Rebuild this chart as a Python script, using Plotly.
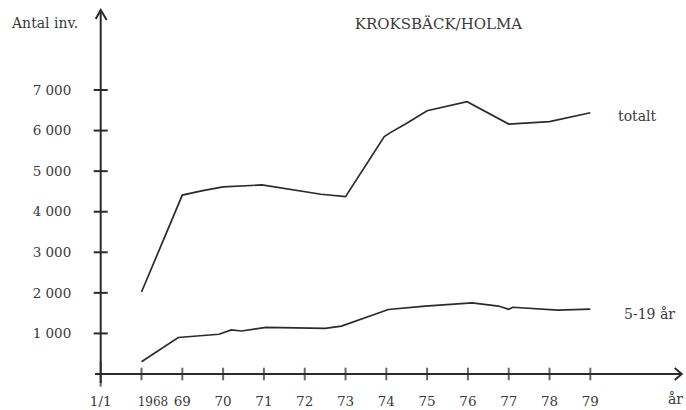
import plotly.graph_objects as go

# --- data ------------------------------------------------------------------
years_total = [1968.0, 1969.0, 1969.5, 1970.0, 1970.95, 1971.7, 1972.4, 1973.0,
               1973.95, 1974.1, 1974.5, 1975.0, 1975.98, 1977.0, 1978.0, 1979.0]
inv_total = [2020, 4410, 4520, 4610, 4660, 4540, 4430, 4370,
             5850, 5950, 6180, 6490, 6710, 6160, 6220, 6440]

years_5_19 = [1968.0, 1968.9, 1969.9, 1970.2, 1970.45, 1971.05, 1972.5, 1972.9,
              1974.05, 1974.95, 1976.1, 1976.75, 1977.0, 1977.1, 1978.2, 1979.0]
inv_5_19 = [300, 900, 980, 1085, 1060, 1150, 1125, 1180,
            1590, 1675, 1755, 1675, 1595, 1645, 1575, 1600]

x_tickvals = [1967, 1968, 1969, 1970, 1971, 1972, 1973, 1974, 1975, 1976, 1977, 1978, 1979]
x_ticktext = ["1/1", "<span style='font-size:12px'>\u00a0\u00a0\u00a0\u00a0\u00a0\u00a01968</span>",
              "69", "70", "71", "72", "73", "74", "75", "76", "77", "78", "79"]
y_tickvals = [1000, 2000, 3000, 4000, 5000, 6000, 7000]
y_ticktext = ["1 000", "2 000", "3 000", "4 000", "5 000", "6 000", "7 000"]

title = "KROKSBÄCK/HOLMA"
series_names = ["totalt", "5-19 år"]

# --- style ------------------------------------------------------------------
INK = "#2b2b2b"
TEXT = "#3a3a3a"
FONT = "DejaVu Serif"
X0, Y0 = 1967, 0               # origin of the drawn axes
X_END, Y_END = 1981.24, 8972   # arrow tips

fig = go.Figure()

for xs, ys, name in [(years_total, inv_total, series_names[0]),
                     (years_5_19, inv_5_19, series_names[1])]:
    fig.add_trace(go.Scatter(
        x=xs, y=ys, mode="lines", name=name,
        line=dict(color=INK, width=1.7),
        showlegend=False, hoverinfo="x+y"
    ))

# tick marks crossing the axes
fig.add_trace(go.Scatter(
    x=[X0] * len(y_tickvals), y=y_tickvals, mode="markers",
    marker=dict(symbol="line-ew", size=10, line=dict(color=INK, width=2)),
    showlegend=False, hoverinfo="skip", cliponaxis=False
))
fig.add_trace(go.Scatter(
    x=x_tickvals, y=[Y0] * len(x_tickvals), mode="markers",
    marker=dict(symbol="line-ns", size=[18] + [9] * (len(x_tickvals) - 1),
                line=dict(color=INK, width=2)),
    showlegend=False, hoverinfo="skip", cliponaxis=False
))

# axes drawn by hand, with open arrow heads
shapes = [
    dict(type="line", xref="x", yref="y", x0=X0 - 0.14, x1=X_END, y0=Y0, y1=Y0,
         line=dict(color=INK, width=2)),
    dict(type="line", xref="x", yref="y", x0=X0, x1=X0, y0=Y0 - 220, y1=Y_END,
         line=dict(color=INK, width=2)),
    dict(type="path", xref="x", yref="y", xsizemode="pixel", ysizemode="pixel",
         xanchor=X0, yanchor=Y_END, path="M -5,-9 L 0,0 L 6,-10",
         line=dict(color=INK, width=2)),
    dict(type="path", xref="x", yref="y", xsizemode="pixel", ysizemode="pixel",
         xanchor=X_END, yanchor=Y0, path="M -7,6 L 0,0 L -7,-6",
         line=dict(color=INK, width=2)),
]

annotations = [
    dict(text="Antal inv.", xref="paper", yref="y", x=-0.1345, y=8640,
         xanchor="left", yanchor="middle"),
    dict(text="år", xref="x", yref="paper", x=1981.08, y=-0.04,
         xanchor="center", yanchor="middle"),
    dict(text=series_names[0], xref="x", yref="y", x=1979.62, y=inv_total[-1] - 90,
         xanchor="left", yanchor="middle"),
    dict(text=series_names[1], xref="x", yref="y", x=1979.78, y=inv_5_19[-1] - 120,
         xanchor="left", yanchor="middle"),
]
for a in annotations:
    a.update(showarrow=False, font=dict(family=FONT, size=14, color=TEXT))

fig.update_layout(
    width=686, height=410,
    margin=dict(l=89, r=2, t=7, b=26),
    paper_bgcolor="white", plot_bgcolor="white",
    title=dict(text=title, x=438.5 / 686, y=1 - 23.3 / 410,
               xanchor="center", yanchor="middle",
               font=dict(family=FONT, size=15, color=TEXT)),
    xaxis=dict(range=[1966.713, 1981.296], showgrid=False, zeroline=False,
               showline=False, tickvals=x_tickvals, ticktext=x_ticktext,
               ticks="outside", ticklen=5, tickcolor="rgba(0,0,0,0)",
               automargin=False,
               tickfont=dict(family=FONT, size=13.5, color=TEXT)),
    yaxis=dict(range=[-246.6, 9046], showgrid=False, zeroline=False,
               showline=False, tickvals=y_tickvals, ticktext=y_ticktext,
               ticks="outside", ticklen=14, tickcolor="rgba(0,0,0,0)",
               automargin=False,
               tickfont=dict(family=FONT, size=13.5, color=TEXT)),
    shapes=shapes,
    annotations=annotations,
    showlegend=False,
)

fig.write_html("out.html", config={"displayModeBar": False},
               post_script="document.body.style.margin = '0';")
